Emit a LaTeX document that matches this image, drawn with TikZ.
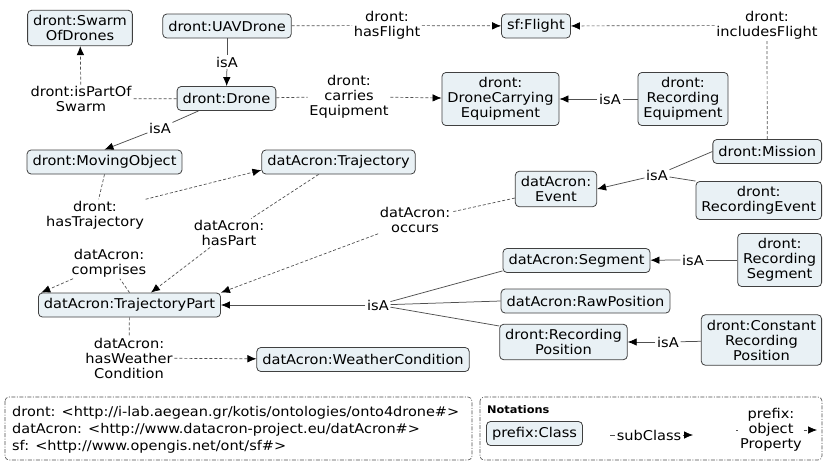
\documentclass[tikz,border=0pt]{standalone}
\usepackage{fontspec}
\setmainfont{DejaVu Sans}[FakeStretch=1.08]
\usetikzlibrary{arrows.meta}

\definecolor{clsfill}{HTML}{E9F1F5}
\definecolor{clsline}{HTML}{404040}
\definecolor{edgegray}{HTML}{505050}
\newcommand\nodefont{\fontsize{13.5}{15}\selectfont}

\begin{document}
\begin{tikzpicture}[
		x=1pt,y=-1pt,
		>={Latex[length=9pt,width=7.5pt,color=black]},
		cls/.style={draw=clsline,line width=0.8pt,fill=clsfill,rounded corners=4pt,
			align=center,inner xsep=5.5pt,inner ysep=5pt,minimum height=24pt,
			font=\nodefont},
		lbl/.style={align=center,inner sep=1.5pt,font=\nodefont},
		isa/.style={edgegray,line width=0.75pt},
		prop/.style={edgegray,line width=0.7pt,dash pattern=on 3pt off 2pt},
		legendbox/.style={black!70,line width=0.6pt,rounded corners=4pt,
			dash pattern=on 4pt off 1.5pt on 1pt off 1.5pt},
	]
	\useasboundingbox (0,0) rectangle (823,461);

	% ---------- classes ----------
	\node[cls] (swarm)    at (80,28)    {dront:Swarm\\OfDrones};
	\node[cls] (uav)      at (227,26)   {dront:UAVDrone};
	\node[cls] (flight)   at (536,26)   {sf:Flight};
	\node[cls] (drone)    at (226.5,98.5) {dront:Drone};
	\node[cls] (dce)      at (500.5,99) {dront:\\DroneCarrying\\Equipment};
	\node[cls] (receq)    at (683,99)   {dront:\\Recording\\Equipment};
	\node[cls] (movobj)   at (104.5,162) {dront:MovingObject};
	\node[cls] (traj)     at (338.5,162) {datAcron:Trajectory};
	\node[cls,anchor=east] (mission)  at (822,151.5) {dront:Mission};
	\node[cls,anchor=east] (recevent) at (822,200.5) {dront:\\RecordingEvent};
	\node[cls] (event)    at (556,189)  {datAcron:\\Event};
	\node[cls] (segment)  at (576.5,260.5) {datAcron:Segment};
	\node[cls,anchor=east] (recseg)   at (822,260)   {dront:\\Recording\\Segment};
	\node[cls] (trajpart) at (129.5,305) {datAcron:TrajectoryPart};
	\node[cls] (rawpos)   at (585.5,301) {datAcron:RawPosition};
	\node[cls] (recpos)   at (563.5,342) {dront:Recording\\Position};
	\node[cls,anchor=east] (constrec) at (822,340) {dront:Constant\\Recording\\Position};
	\node[cls] (weather)  at (363,359.5) {datAcron:WeatherCondition};

	% ---------- edge labels ----------
	\node[lbl] (hasflight)  at (387,25.5) {dront:\\hasFlight};
	\node[lbl] (inclflight) at (767,25.5) {dront:\\includesFlight};
	\node[lbl] (partof)     at (81,99)    {dront:isPartOf\\Swarm};
	\node[lbl] (carries)    at (349,96.5) {dront:\\carries\\Equipment};
	\node[lbl] (hastraj)    at (95,215)   {dront:\\hasTrajectory};
	\node[lbl] (haspart)    at (229,233)  {datAcron:\\hasPart};
	\node[lbl] (comprises)  at (109,263)  {datAcron:\\comprises};
	\node[lbl] (occurs)     at (415,220)  {datAcron:\\occurs};
	\node[lbl] (hasweather) at (129,358)  {datAcron:\\hasWeather\\Condition};
	\node[lbl] (isauav)   at (227,62)  {isA};
	\node[lbl] (isadrone) at (160,128) {isA};
	\node[lbl] (isareceq) at (610,99)  {isA};
	\node[lbl] (isaevent) at (657,175) {isA};
	\node[lbl] (isaseg)   at (693,260) {isA};
	\node[lbl] (isatp)    at (378,305) {isA};
	\node[lbl] (isarecpos) at (668,342) {isA};

	% ---------- subclass links ----------
	\draw[isa] (uav) -- (isauav);
	\draw[isa,->] (isauav) -- (drone);
	\draw[isa] (drone) -- (isadrone);
	\draw[isa,->] (isadrone) -- (movobj.north);
	\draw[isa] (receq) -- (isareceq);
	\draw[isa,->] (isareceq) -- (dce);
	\draw[isa] (mission.west) -- (isaevent);
	\draw[isa] (recevent.north west) -- (isaevent);
	\draw[isa,->] (isaevent) -- (event.east);
	\draw[isa] (recseg) -- (isaseg);
	\draw[isa,->] (isaseg) -- (segment);
	\draw[isa] (segment.188) -- (isatp);
	\draw[isa] (rawpos.west) -- (isatp);
	\draw[isa] (recpos.166) -- (isatp);
	\draw[isa,->] (isatp) -- (trajpart);
	\draw[isa] (constrec) -- (isarecpos);
	\draw[isa,->] (isarecpos) -- (recpos);

	% ---------- object properties ----------
	\draw[prop] (uav) -- (hasflight);
	\draw[prop,->] (hasflight) -- (flight);
	\draw[prop] (mission.north) -- (inclflight);
	\draw[prop,->] (inclflight) -- (flight);
	\draw[prop] (drone) -- (partof);
	\draw[prop,->] (partof) -- (swarm);
	\draw[prop] (drone) -- (carries);
	\draw[prop,->] (carries) -- (dce);
	\draw[prop] (movobj.south) -- (hastraj);
	\draw[prop,->] (hastraj.north east) -- (traj.186);
	\draw[prop] (traj.212) -- (haspart);
	\draw[prop,->] (haspart) -- (trajpart.30);
	\draw[prop] (trajpart.north) -- (comprises);
	\draw[prop,->] (comprises) -- (trajpart.172);
	\draw[prop] (event) -- (occurs);
	\draw[prop,->] (occurs) -- (trajpart.north east);
	\draw[prop] (trajpart) -- (hasweather);
	\draw[prop,->] (hasweather) -- (weather);

	% ---------- namespaces ----------
	\draw[legendbox] (5,397) rectangle (472,460);
	\node[anchor=west,align=left,inner sep=0pt,font=\fontsize{13.4}{17}\selectfont]
		(prefixes) at (12,430)
		{dront: <http://i-lab.aegean.gr/kotis/ontologies/onto4drone\#>\\
		datAcron: <http://www.datacron-project.eu/datAcron\#>\\
		sf: <http://www.opengis.net/ont/sf\#>};

	% ---------- notations ----------
	\draw[legendbox] (480,397) rectangle (822,460);
	\node[anchor=west,inner sep=0pt,font=\fontsize{10.5}{12}\selectfont\bfseries]
		(notations) at (487,410) {Notations};
	\node[cls] (pclass) at (534.5,433.5) {prefix:Class};
	\node[lbl] (subcls) at (649,435) {subClass};
	\coordinate (sub1) at (610,435);
	\coordinate (sub2) at (693,435);
	\draw[isa] (sub1) -- (subcls);
	\draw[isa,->] (subcls) -- (sub2);
	\node[lbl] (objprop) at (771,430) {prefix:\\object\\Property};
	\coordinate (op1) at (736,430);
	\coordinate (op2) at (817,430);
	\draw[prop] (op1) -- (objprop);
	\draw[prop,->] (objprop) -- (op2);

\end{tikzpicture}
\end{document}
